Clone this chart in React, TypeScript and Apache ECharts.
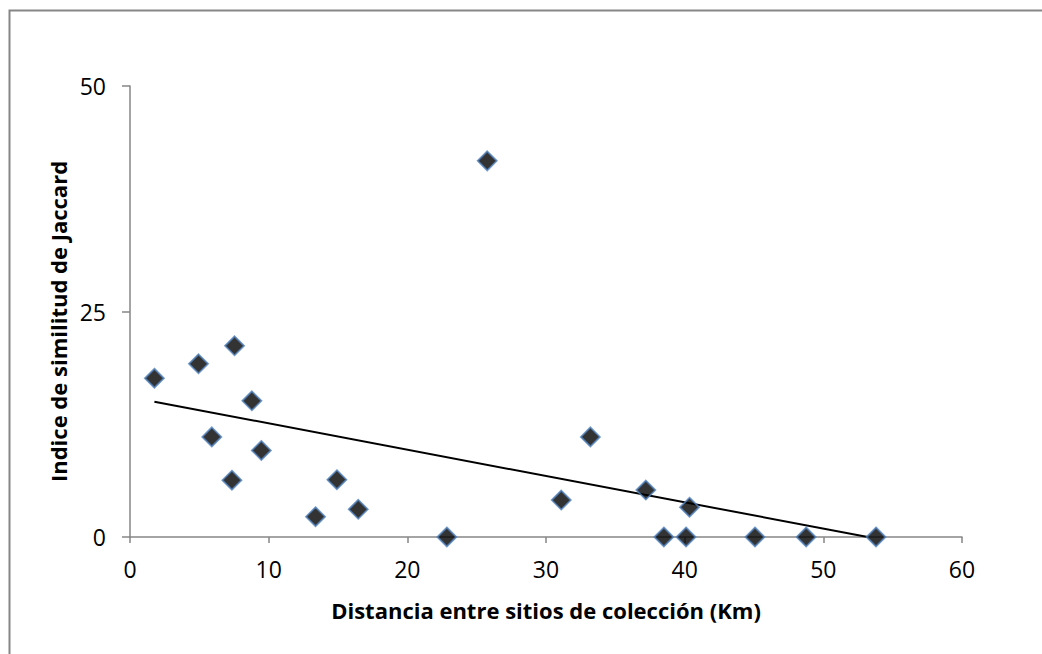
import React, { useEffect, useRef } from "react";
import * as echarts from "echarts";

const distances = [1.76, 4.94, 7.54, 8.79, 5.9, 9.47, 7.35, 13.38, 14.92, 16.46, 22.85, 25.76, 31.1, 33.2, 37.2, 38.5, 40.1, 40.35, 45.07, 48.76, 53.8];
const jaccard = [17.6, 19.2, 21.2, 15.1, 11.1, 9.6, 6.3, 2.25, 6.35, 3.07, 0, 41.7, 4.1, 11.1, 5.2, 0, 0, 3.3, 0, 0, 0];
const trendX = [1.76, 53.2];
const trendY = [15.0, 0];
const xTicks = { min: 0, max: 60, interval: 10 };
const yTicks = { min: 0, max: 50, interval: 25 };

const FONT = "'Open Sans', 'Noto Sans', sans-serif";

export default function App() {
  const ref = useRef<HTMLDivElement>(null);
  useEffect(() => {
    if (!ref.current) return;
    const chart = echarts.init(ref.current, null, { renderer: "svg" });
    const axisColor = "#868686";
    chart.setOption({
      animation: false,
      backgroundColor: "#ffffff",
      graphic: [
        {
          type: "rect",
          shape: { x: 9.5, y: 10.5, width: 1200, height: 800 },
          style: { fill: "none", stroke: axisColor, lineWidth: 2 },
          silent: true,
        },
      ],
      grid: { left: 130, right: 80, top: 86, bottom: 117, containLabel: false },
      xAxis: {
        type: "value",
        min: xTicks.min,
        max: xTicks.max,
        interval: xTicks.interval,
        name: "Distancia entre sitios de colección (Km)",
        nameLocation: "middle",
        nameGap: 62,
        nameTextStyle: { fontFamily: FONT, fontSize: 22, fontWeight: "bold", color: "#000" },
        axisLine: { show: true, onZero: false, lineStyle: { color: axisColor, width: 1.5 } },
        axisTick: { show: true, inside: false, length: 6, lineStyle: { color: axisColor, width: 1.5 } },
        axisLabel: { fontFamily: FONT, fontSize: 23, color: "#000", margin: 20 },
        splitLine: { show: false },
      },
      yAxis: {
        type: "value",
        min: yTicks.min,
        max: yTicks.max,
        interval: yTicks.interval,
        name: "Indice de similitud de Jaccard",
        nameLocation: "middle",
        nameGap: 50,
        nameTextStyle: { fontFamily: FONT, fontSize: 22, fontWeight: "bold", color: "#000", padding: [0, 20, 0, 0] },
        axisLine: { show: true, onZero: false, lineStyle: { color: axisColor, width: 1.5 } },
        axisTick: { show: true, inside: false, length: 8, lineStyle: { color: axisColor, width: 1.5 } },
        axisLabel: { fontFamily: FONT, fontSize: 23, color: "#000", margin: 24 },
        splitLine: { show: false },
      },
      series: [
        {
          type: "line",
          data: trendX.map((x, i) => [x, trendY[i]]),
          showSymbol: false,
          symbol: "none",
          lineStyle: { color: "#000", width: 2 },
          z: 2,
        },
        {
          type: "scatter",
          data: distances.map((x, i) => [x, jaccard[i]]),
          symbol: "diamond",
          symbolSize: 19,
          itemStyle: { color: "#000", borderColor: "#4F81BD", borderWidth: 1.8 },
          z: 3,
        },
      ],
    });
    return () => chart.dispose();
  }, []);
  return <div ref={ref} style={{ position: "fixed", left: 0, top: 0, width: 1042, height: 654 }} />;
}
